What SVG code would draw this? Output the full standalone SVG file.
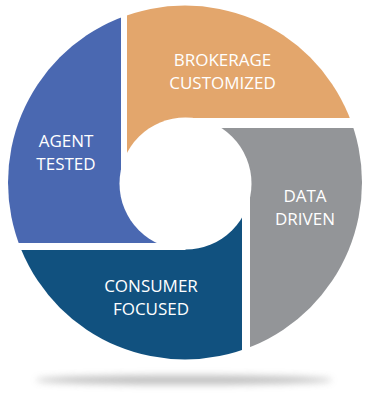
<svg xmlns="http://www.w3.org/2000/svg" width="369" height="397" viewBox="0 0 369 397">
<style>
.lbl{font-family:"Open Sans","Liberation Sans",sans-serif;font-size:17px;fill:#ffffff;text-anchor:middle}
</style>
<defs>
<clipPath id="outer"><circle cx="185" cy="182.5" r="177"/></clipPath>
<filter id="blur" x="-20%" y="-200%" width="140%" height="500%"><feGaussianBlur stdDeviation="3.5"/></filter>
</defs>
<rect width="369" height="397" fill="#ffffff"/>
<ellipse cx="184" cy="380" rx="148" ry="4.5" fill="#a8a8a8" filter="url(#blur)" opacity="0.75"/>
<g clip-path="url(#outer)">
<g id="brokerage">
<path d="M127 0H369V118H185.5V184H127Z" fill="#E3A66C"/>
</g>
<g id="data">
<path d="M185.5 128H369V397H250V184H185.5Z" fill="#939598"/>
</g>
<g id="consumer">
<path d="M185.5 184H242V397H0V250H185.5Z" fill="#11517F"/>
</g>
<g id="agent">
<path d="M0 0H121V184H185.5V243H0Z" fill="#4A68B1"/>
</g>
</g>
<circle cx="185.5" cy="183.5" r="66" fill="#ffffff"/>
<g id="connectors"/>
<text class="lbl" x="222.5" y="66">BROKERAGE</text>
<text class="lbl" x="222.5" y="89">CUSTOMIZED</text>
<text class="lbl" x="66" y="147">AGENT</text>
<text class="lbl" x="66" y="170">TESTED</text>
<text class="lbl" x="305" y="202">DATA</text>
<text class="lbl" x="305" y="225">DRIVEN</text>
<text class="lbl" x="151" y="292">CONSUMER</text>
<text class="lbl" x="151" y="315">FOCUSED</text>
</svg>
